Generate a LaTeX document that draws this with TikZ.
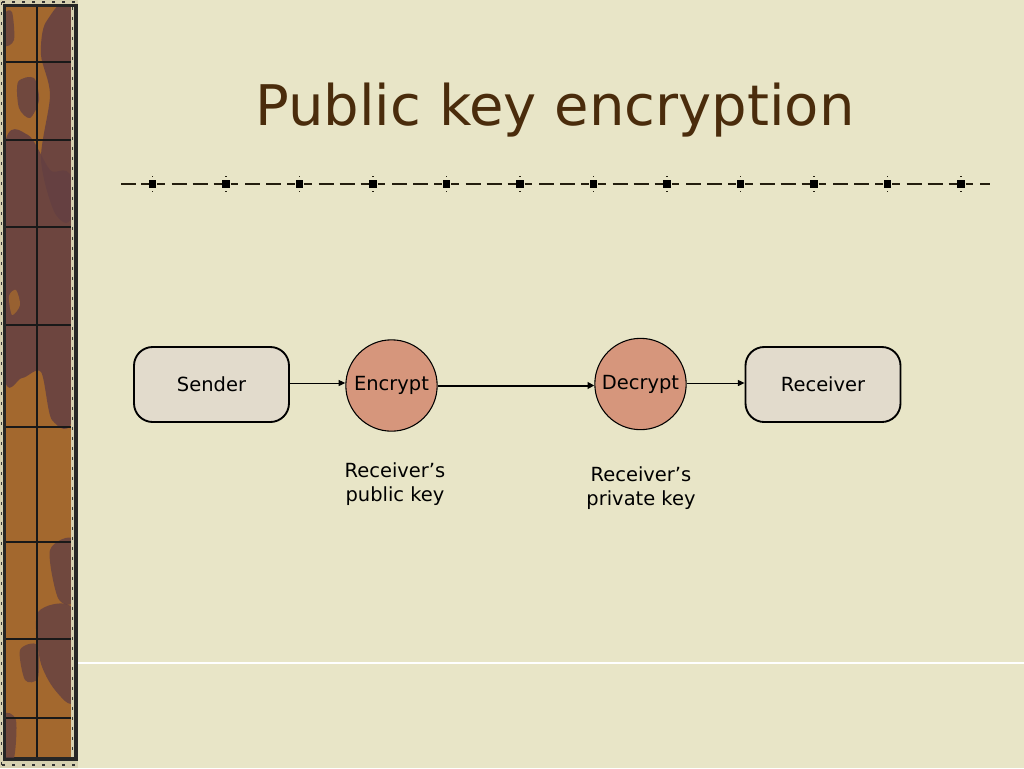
\documentclass[tikz,border=0pt]{standalone}
\usepackage{fontspec}
\setmainfont{DejaVu Sans}
\usetikzlibrary{arrows.meta}
\definecolor{paper}{RGB}{232,229,199}
\definecolor{titlebrown}{RGB}{74,44,12}
\definecolor{rulecol}{RGB}{36,30,14}
\definecolor{boxfill}{RGB}{226,219,204}
\definecolor{circfill}{RGB}{214,150,124}
\definecolor{wood}{RGB}{163,104,46}
\definecolor{woodpurple}{RGB}{100,64,66}
\definecolor{stripcream}{RGB}{214,208,176}
\tikzset{
  box/.style={draw=black, line width=1.4pt, fill=boxfill, rounded corners=14pt,
    minimum width=116.25pt, minimum height=56.25pt, inner sep=0pt,
    font=\fontsize{14.6}{18}\selectfont},
  circ/.style={draw=black, line width=0.8pt, fill=circfill, circle,
    minimum size=68.5pt, inner sep=0pt, font=\fontsize{14.6}{18}\selectfont},
  keylabel/.style={align=center, inner sep=0pt, font=\fontsize{14.6}{18}\selectfont},
  thinarrow/.style={draw=black, line width=0.75pt, -{Triangle[length=5pt,width=4.5pt]}},
  thickarrow/.style={draw=black, line width=1.5pt, -{Triangle[length=5pt,width=5pt]}},
  ruleseg/.style={draw=rulecol, line width=1.6pt},
  gridline/.style={draw=black!90, line width=0.8pt}
}
\begin{document}
\begin{tikzpicture}[x=0.75pt,y=-0.75pt]
\useasboundingbox (0,0) rectangle (1024,768);
\fill[paper] (0,0) rectangle (1024,768);
% white rule near bottom
\draw[white, line width=0.9pt] (78,663) -- (1024,663);
% wooden strip
\fill[stripcream] (0,0) rectangle (78,768);
\fill[black!85] (3,4) rectangle (77.5,761);
\fill[wood] (6,7) rectangle (71,757);
\begin{scope}
\clip (6,7) rectangle (71,757);
\fill[woodpurple, fill opacity=0.85] plot[smooth cycle] coordinates {(46,22) (72,10) (74,205) (56,215) (41,160) (50,95) (41,55)};
\fill[woodpurple, fill opacity=0.8] plot[smooth cycle] coordinates {(18,82) (34,78) (39,100) (30,118) (19,108)};
\fill[woodpurple, fill opacity=0.85] plot[smooth cycle] coordinates {(4,150) (28,135) (50,170) (74,190) (74,410) (52,420) (41,372) (22,378) (4,372)};
\fill[wood, fill opacity=0.8] plot[smooth cycle] coordinates {(9,296) (16,290) (20,305) (12,315)};
\fill[woodpurple, fill opacity=0.8] plot[smooth cycle] coordinates {(50,550) (74,540) (74,600) (58,598)};
\fill[woodpurple, fill opacity=0.8] plot[smooth cycle] coordinates {(38,612) (74,610) (74,700) (55,690) (40,660)};
\fill[woodpurple, fill opacity=0.75] plot[smooth cycle] coordinates {(20,650) (37,645) (38,678) (25,680)};
\fill[woodpurple, fill opacity=0.75] plot[smooth cycle] coordinates {(4,715) (16,720) (14,758) (4,758)};
\fill[woodpurple, fill opacity=0.75] plot[smooth cycle] coordinates {(4,15) (12,12) (14,40) (4,45)};
\end{scope}
\fill[stripcream] (71,7) rectangle (74,757);
\draw[black!80, line width=1.2pt, dash pattern=on 2.5pt off 5pt] (1.5,2) -- (1.5,766);
\draw[black!80, line width=1.2pt, dash pattern=on 2.5pt off 5pt] (72.5,7) -- (72.5,757);
\draw[black!80, line width=1.2pt, dash pattern=on 2.5pt off 5pt] (2,2) -- (77,2);
\draw[black!80, line width=1.2pt, dash pattern=on 2.5pt off 5pt] (2,765) -- (77,765);
\draw[gridline] (37,7) -- (37,757);
\foreach \yy in {62,140,227,325,427,542,639,718}{
  \draw[gridline] (6,\yy) -- (71,\yy);
}
% decorative dashed rule with squares
\draw[ruleseg] (121,184) -- (136,184);
\draw[ruleseg] (141,184) -- (148.5,184);
\foreach \k in {0,...,11}{
  \pgfmathsetmacro\c{152.5+73.5*\k}
  \fill[black] (\c-3.6,180.4) rectangle (\c+3.6,187.6);
  \fill[rulecol] (\c-0.7,176) rectangle (\c+0.7,177.4);
  \fill[rulecol] (\c-0.7,190.6) rectangle (\c+0.7,192);
  \draw[ruleseg] (\c+4.5,184) -- (\c+12,184);
}
\foreach \k in {0,...,10}{
  \pgfmathsetmacro\c{152.5+73.5*\k}
  \draw[ruleseg] (\c+19,184) -- (\c+34,184);
  \draw[ruleseg] (\c+40,184) -- (\c+55,184);
  \draw[ruleseg] (\c+61,184) -- (\c+69,184);
}
\draw[ruleseg] (980,184) -- (990,184);
% title
\node[anchor=base, inner sep=0pt, text=titlebrown, font=\fontsize{42}{50}\selectfont] (title) at (555,125) {Public key encryption};
% diagram
\node[box] (sender) at (211.5,384.5) {Sender};
\node[circ] (encrypt) at (391.5,385.5) {Encrypt};
\node[circ] (decrypt) at (640.5,384) {Decrypt};
\node[box] (receiver) at (823,384.5) {Receiver};
\draw[thinarrow] (sender.east |- 0,383) -- (encrypt.west |- 0,383);
\draw[thickarrow] (encrypt.east) -- (decrypt.west |- encrypt.east);
\draw[thinarrow] (decrypt.east |- 0,383) -- (receiver.west |- 0,383);
\node[keylabel] (pubkey) at (395,484) {Receiver’s\\public key};
\node[keylabel] (privkey) at (641,488) {Receiver’s\\private key};
\end{tikzpicture}
\end{document}
